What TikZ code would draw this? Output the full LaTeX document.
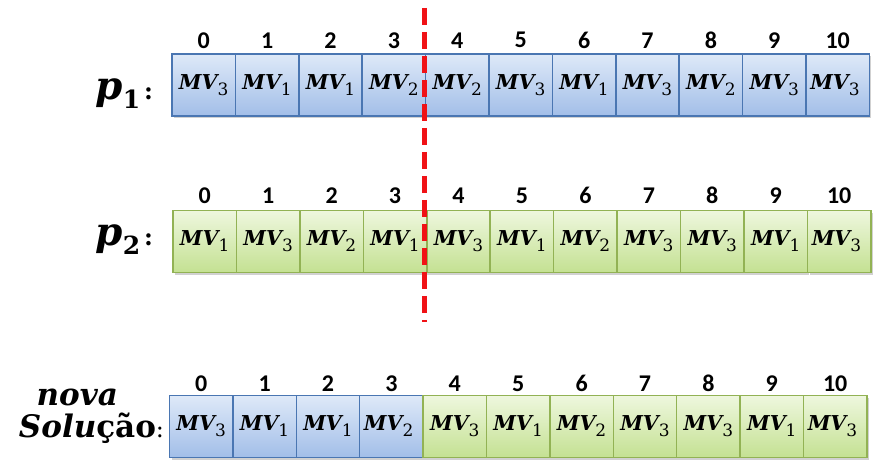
\documentclass[tikz,border=0pt]{standalone}
\usepackage{fontspec}
\newfontfamily\numfont{Carlito}
\newfontfamily\serfont{DejaVu Serif}
\usetikzlibrary{shadows}
\usetikzlibrary{positioning}
\usetikzlibrary{calc}

\definecolor{blueTop}{RGB}{222,233,248}
\definecolor{blueBot}{RGB}{162,190,232}
\definecolor{blueLine}{RGB}{74,118,178}
\definecolor{greenTop}{RGB}{238,247,222}
\definecolor{greenBot}{RGB}{196,225,146}
\definecolor{greenLine}{RGB}{146,178,84}
\definecolor{cutRed}{RGB}{240,18,22}

% gene label: bold italic MV with plain subscript
\newcommand{\mvlab}[1]{{\serfont\bfseries\itshape\fontsize{20.5}{22}\selectfont MV}%
  \raisebox{-6pt}{\serfont\fontsize{17}{18}\selectfont #1}}
% parent label
\newcommand{\plab}[1]{{\serfont\bfseries\itshape\fontsize{39}{40}\selectfont p}%
  \raisebox{-9pt}{\serfont\bfseries\fontsize{25}{26}\selectfont #1}%
  {\serfont\bfseries\fontsize{24}{24}\selectfont\,:}}

\tikzset{
  cell/.style={draw, line width=1.5pt, minimum width=63.4pt, minimum height=62pt,
    inner sep=0pt,
    drop shadow={shadow xshift=2pt, shadow yshift=-2.5pt, opacity=0.3, fill=black!60}},
  cellA/.style={cell, draw=blueLine, top color=blueTop, bottom color=blueBot},
  cellB/.style={cell, draw=greenLine, top color=greenTop, bottom color=greenBot},
  idx/.style={inner sep=0pt, font=\numfont\bfseries\fontsize{24}{26}\selectfont},
  lbl/.style={inner sep=0pt, font=\serfont\fontsize{31}{33}\selectfont},
}

\begin{document}
\begin{tikzpicture}[x=1pt, y=1pt]
  \useasboundingbox (0,0) rectangle (879,471);

  % row p1
  \foreach \i/\v in { 0/3,1/1,2/1,3/2,4/2,5/3,6/1,7/3,8/2,9/3,10/3 } {
         \node (p1c\i) [cellA] at (203.7+63.4*\i, 386) {\mvlab{\v}};
         \node (p1n\i) [idx] at ([yshift=13pt]p1c\i.north) {\i};
  }
  \node (lp1) [lbl, anchor=base east] at ([xshift=-18pt, yshift=-15pt]p1c0.west) {\plab{1}};

  % row p2
  \foreach \i/\v in { 0/1,1/3,2/2,3/1,4/3,5/1,6/2,7/3,8/3,9/1,10/3 } {
         \node (p2c\i) [cellB] at (204.7+63.45*\i, 229.5) {\mvlab{\v}};
         \node (p2n\i) [idx] at ([yshift=14pt]p2c\i.north) {\i};
  }
  \node (lp2) [lbl, anchor=base east] at ([xshift=-19pt, yshift=-4pt]p2c0.west) {\plab{2}};

  % new solution
  \foreach \i/\v in { 0/3,1/1,2/1,3/2 } {
         \node (nc\i) [cellA] at (201.2+63.4*\i, 44.5) {\mvlab{\v}};
         \node (nn\i) [idx] at ([yshift=11pt]nc\i.north) {\i};
  }
  \foreach \i/\v in { 4/3,5/1,6/2,7/3,8/3,9/1,10/3 } {
         \node (nc\i) [cellB] at (201.2+63.4*\i, 44.5) {\mvlab{\v}};
         \node (nn\i) [idx] at ([yshift=11pt]nc\i.north) {\i};
  }
  \node (lsol) [lbl, anchor=base east] at ([xshift=-4.5pt, yshift=-11.5pt]nc0.west)
       {\textbf{\textit{Solu}ção}{\fontsize{24}{24}\selectfont:}};
  \node (lnova) [lbl, anchor=base] at ([xshift=-91.5pt, yshift=21pt]nc0.west)
       {\textbf{\textit{nova}}};

  % cut point
  \coordinate (cutTop) at (424,463);
  \coordinate (cutBot) at (424,149);
  \draw[cutRed, line width=5pt, dash pattern=on 17pt off 7pt] (cutTop) -- (cutBot);

\end{tikzpicture}
\end{document}
